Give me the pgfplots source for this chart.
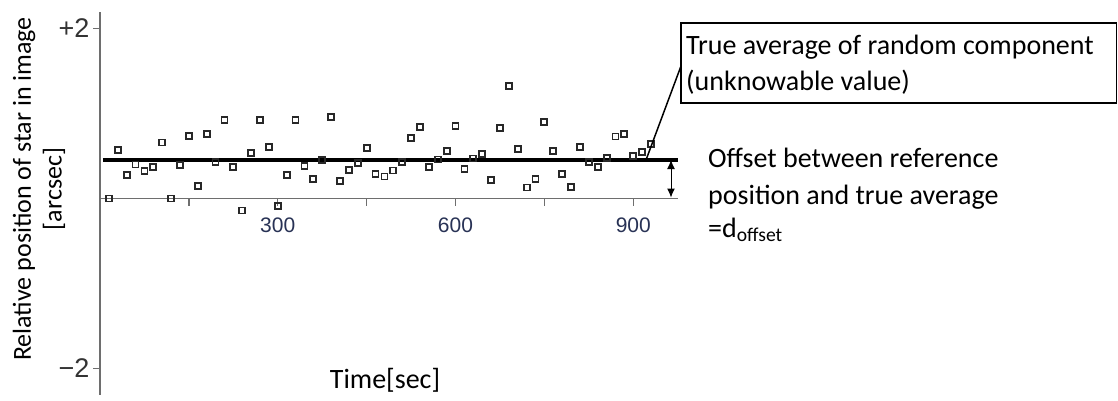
\documentclass[border=0pt]{standalone}
\usepackage{pgfplots}
\pgfplotsset{compat=1.18}
\usepackage{pgfplotstable}
\usetikzlibrary{arrows.meta}
\usepackage{fontspec}
\setmainfont{Carlito}
\newfontfamily\arialf{Liberation Sans}
\definecolor{axgray}{RGB}{110,110,110}
\definecolor{ticklab}{RGB}{40,50,85}
\definecolor{markc}{RGB}{40,40,40}
\pgfplotstableread{
t v
15 0.00
30 0.57
45 0.28
60 0.40
75 0.32
90 0.37
105 0.66
120 0.00
135 0.39
150 0.74
165 0.15
180 0.76
195 0.43
210 0.92
225 0.37
240 -0.14
255 0.54
270 0.92
285 0.61
300 -0.09
315 0.28
330 0.92
345 0.38
360 0.23
375 0.45
390 0.96
405 0.21
420 0.34
435 0.42
450 0.59
465 0.29
480 0.26
495 0.33
510 0.43
525 0.71
540 0.84
555 0.37
570 0.46
585 0.56
600 0.85
615 0.35
630 0.47
645 0.52
660 0.22
675 0.83
690 1.32
705 0.58
720 0.13
735 0.23
750 0.90
765 0.56
780 0.29
795 0.14
810 0.61
825 0.43
840 0.37
855 0.48
870 0.73
885 0.76
900 0.50
915 0.55
930 0.64
}\datatable
\begin{document}
\begin{tikzpicture}
\useasboundingbox (0,0) rectangle (1118pt,400pt);
\begin{axis}[
  scale only axis,
  width=577.7pt, height=382.5pt,
  at={(100pt,5.15pt)}, anchor=south west,
  xmin=0, xmax=975, ymin=-2.31, ymax=2.19,
  axis x line=middle, axis y line=left,
  axis line style={-, axgray, line width=1.6pt},
  tick align=outside,
  major tick length=7pt,
  tick style={axgray, line width=1.4pt},
  xtick={150,300,450,600,750,900},
  xticklabels={,300,,600,,900},
  ytick={-2,2},
  yticklabels={−2,+2},
  xticklabel style={font=\arialf\fontsize{21}{23}\selectfont, text=ticklab, yshift=-9pt},
  yticklabel style={font=\arialf\fontsize{27}{29}\selectfont, text=black!80},
  clip=false,
]
\addplot[black, line width=3.3pt] coordinates {(5,0.453) (975,0.453)};
\addplot[only marks, mark=square, mark size=3pt, mark options={draw=markc, line width=1.8pt, fill=white}] table[x=t, y=v] {\datatable};
\end{axis}
% y label
\node[rotate=90, font=\fontsize{26}{28}\selectfont] at (24pt,211pt) {Relative position of star in image};
\node[rotate=90, font=\fontsize{26}{28}\selectfont] at (54pt,211pt) {[arcsec]};
% x label
\node[anchor=base, font=\fontsize{28}{30}\selectfont] at (385pt,12pt) {Time[sec]};
% callout box
\draw[black, line width=1.5pt] (681pt,377pt) rectangle (1116.5pt,297pt);
\node[anchor=base west, inner sep=0pt, font=\fontsize{28}{30}\selectfont] at (686pt,345pt) {True average of random component};
\node[anchor=base west, inner sep=0pt, font=\fontsize{28}{30}\selectfont] at (686pt,310pt) {(unknowable value)};
\draw[black, line width=1.5pt] (646pt,240pt) -- (681pt,334pt);
% offset arrow
\draw[black, line width=1pt, {Latex[length=9pt,width=8pt]}-{Latex[length=9pt,width=8pt]}] (671pt,240pt) -- (671pt,202.5pt);
\node[anchor=base west, inner sep=0pt, font=\fontsize{28}{30}\selectfont] at (708pt,233pt) {Offset between reference};
\node[anchor=base west, inner sep=0pt, font=\fontsize{28}{30}\selectfont] at (708pt,196pt) {position and true average};
\node[anchor=base west, inner sep=0pt, font=\fontsize{28}{30}\selectfont] at (708pt,163pt) {=d\textsubscript{offset}};
\end{tikzpicture}
\end{document}
